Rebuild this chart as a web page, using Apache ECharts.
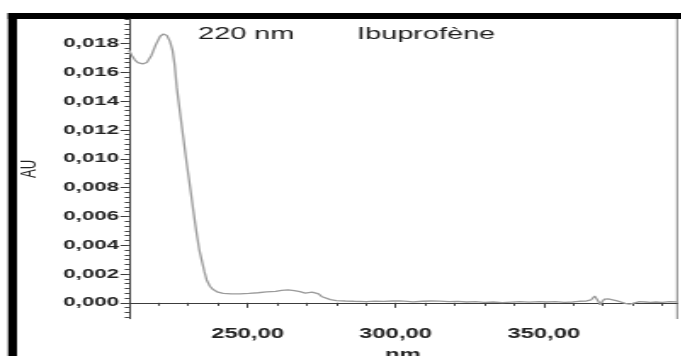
<!DOCTYPE html>
<html>
<head>
<meta charset="utf-8">
<script src="https://cdn.jsdelivr.net/npm/echarts@6/dist/echarts.min.js"></script>
<style>
  html, body { margin: 0; padding: 0; background: #fff; overflow: hidden; }
  #wrap { width: 681px; height: 356px; overflow: hidden; position: relative; }
  /* the printed spectrum is stretched horizontally; the chart is drawn narrow and widened */
  #chart { width: 401px; height: 356px; transform: scaleX(1.7); transform-origin: 0 0; }
</style>
</head>
<body>
<div id="wrap"><div id="chart"></div></div>
<script>
// UV spectrum of ibuprofen (absorbance vs wavelength)
const wavelengths = [
  210, 211, 212, 213, 214.6, 216, 217.5, 219, 220.5, 221.6, 222.8, 223.8, 224.7, 225.4,
  226.1, 227.2, 228.3, 229.4, 230.6, 231.7, 232.8, 233.7, 234.5, 235.4, 236.2, 237.3,
  238.4, 240, 241.8, 244.5, 247.4, 250.5, 253.5, 256.4, 259.5, 261.5, 263.7, 265.8,
  267.7, 269.5, 270.5, 271.8, 272.7, 274, 275.2, 276.1, 278, 280, 283, 286, 290, 293,
  296, 299, 301.4, 304, 305.9, 309, 312, 314.9, 318, 321, 324, 327, 330, 333, 336, 339,
  342, 345, 348.6, 351, 354, 357, 359.8, 362, 364.5, 366, 367.2, 367.8, 368.5, 369,
  369.7, 370.5, 371.8, 373.3, 374.8, 376.1, 377.5, 378.9, 380.2, 382.3, 384.5, 386,
  387.9, 390, 392.5, 395
];
const absorbance = [
  0.01751, 0.01715, 0.01685, 0.01667, 0.01659, 0.01668, 0.01715, 0.01790, 0.01850, 0.01866,
  0.01855, 0.01815, 0.01751, 0.01650, 0.01497, 0.01320, 0.01151, 0.00978, 0.00805, 0.00640,
  0.00482, 0.00370, 0.00298, 0.00220, 0.00159, 0.00115, 0.00092, 0.00074, 0.00066, 0.00062,
  0.00062, 0.00066, 0.00070, 0.00076, 0.00080, 0.00086, 0.00090, 0.00085, 0.00078, 0.00067,
  0.00064, 0.00074, 0.00080, 0.00062, 0.00042, 0.00032, 0.00022, 0.00016, 0.00013, 0.00011,
  0.00009, 0.00012, 0.00010, 0.00013, 0.00014, 0.00010, 0.00007, 0.00011, 0.00013, 0.00012,
  0.00008, 0.00010, 0.00006, 0.00008, 0.00004, 0.00006, 0.00002, 0.00005, 0.00008, 0.00005,
  0.00009, 0.00006, 0.00008, 0.00004, 0.00006, 0.00011, 0.00013, 0.00020, 0.00048, 0.00055,
  0.00010, -0.00014, 0.00008, 0.00026, 0.00027, 0.00021, 0.00014, 0.00006, -0.00004, -0.00009,
  -0.00003, 0.00008, 0.00006, 0.00004, 0.00006, 0.00003, 0.00008, 0.00007
];

// axis ticks
const yLabelValues = [0, 0.002, 0.004, 0.006, 0.008, 0.010, 0.012, 0.014, 0.016, 0.018];
const xLabelValues = [250, 300, 350];
const xMinorValues = [220, 230, 240, 260, 270, 280, 290, 310, 320, 330, 340, 360, 370, 380, 390];
const yMinorPerMajor = 6;

const X_MIN = 210, X_MAX = 395;
const Y_MIN = -0.0011, Y_MAX = 0.0197;

// minor ruler marks on the absorbance axis
const yMinorValues = [];
const yStep = 0.002 / yMinorPerMajor;
for (let k = -6; k * yStep <= Y_MAX; k++) {
  const v = k * yStep;
  if (v < Y_MIN) continue;
  if (k % yMinorPerMajor !== 0) yMinorValues.push(v);
}

const points = wavelengths.map((w, i) => [w, absorbance[i]]);

const FONT = '"Liberation Sans", Arial, sans-serif';
const INK = '#222';
const AXIS = '#3c3c3c';

const chart = echarts.init(document.getElementById('chart'), null, { renderer: 'canvas' });
chart.setOption({
  animation: false,
  backgroundColor: '#fff',
  grid: { left: 75.9, right: 2.8, top: 19, bottom: 37.3, containLabel: false, outerBoundsMode: 'none' },
  xAxis: [
    {
      type: 'value', min: X_MIN, max: X_MAX,
      name: 'nm', nameLocation: 'middle', nameGap: 29,
      nameTextStyle: { fontFamily: FONT, fontSize: 14, fontWeight: 'bold', color: INK },
      axisLine: { show: true, lineStyle: { color: AXIS, width: 1.2 } },
      axisTick: { show: true, customValues: xLabelValues, length: 5, lineStyle: { color: AXIS, width: 1 } },
      axisLabel: {
        customValues: xLabelValues, margin: 8, fontFamily: FONT, fontSize: 14, fontWeight: 'bold', color: INK,
        formatter: v => v.toFixed(2).replace('.', ',')
      },
      splitLine: { show: false }
    },
    {
      type: 'value', min: X_MIN, max: X_MAX, position: 'bottom',
      axisLine: { show: false },
      axisTick: { show: true, customValues: xMinorValues, length: 3, lineStyle: { color: AXIS, width: 1 } },
      axisLabel: { show: false },
      splitLine: { show: false }
    }
  ],
  yAxis: [
    {
      type: 'value', min: Y_MIN, max: Y_MAX,
      axisLine: { show: true, lineStyle: { color: AXIS, width: 1 } },
      axisTick: { show: true, customValues: yLabelValues, length: 5, lineStyle: { color: AXIS, width: 1 } },
      axisLabel: {
        customValues: yLabelValues, margin: 6, fontFamily: FONT, fontSize: 13, fontWeight: 'bold', color: INK,
        formatter: v => v.toFixed(3).replace('.', ',')
      },
      splitLine: { show: false }
    },
    {
      type: 'value', min: Y_MIN, max: Y_MAX, position: 'left',
      axisLine: { show: false },
      axisTick: { show: true, customValues: yMinorValues, length: 2.5, lineStyle: { color: AXIS, width: 1 } },
      axisLabel: { show: false },
      splitLine: { show: false }
    }
  ],
  series: [{
    type: 'line',
    xAxisIndex: 0, yAxisIndex: 0,
    data: points,
    showSymbol: false,
    smooth: false,
    lineStyle: { color: '#9b9b9b', width: 1.3 },
    clip: true
  }],
  graphic: [
    // frame
    { type: 'rect', shape: { x: 4.7, y: 13, width: 5.3, height: 343 }, style: { fill: '#000' }, silent: true },
    { type: 'rect', shape: { x: 4.7, y: 13, width: 400, height: 6 }, style: { fill: '#000' }, silent: true },
    { type: 'line', shape: { x1: 398.3, y1: 19, x2: 398.3, y2: 319 }, style: { stroke: '#8a8a8a', lineWidth: 1 }, silent: true },
    // axis title
    { type: 'text', x: 17, y: 169, rotation: Math.PI / 2,
      style: { text: 'AU', font: '13px ' + FONT, fill: INK, align: 'center', verticalAlign: 'middle' } },
    // headings
    { type: 'text', x: 116.5, y: 34.5,
      style: { text: '220 nm', font: '17px ' + FONT, fill: '#1a1a1a', align: 'left', verticalAlign: 'middle' } },
    { type: 'text', x: 210, y: 34.5,
      style: { text: 'Ibuprofène', font: '17px ' + FONT, fill: '#1a1a1a', align: 'left', verticalAlign: 'middle' } }
  ]
});
</script>
</body>
</html>
